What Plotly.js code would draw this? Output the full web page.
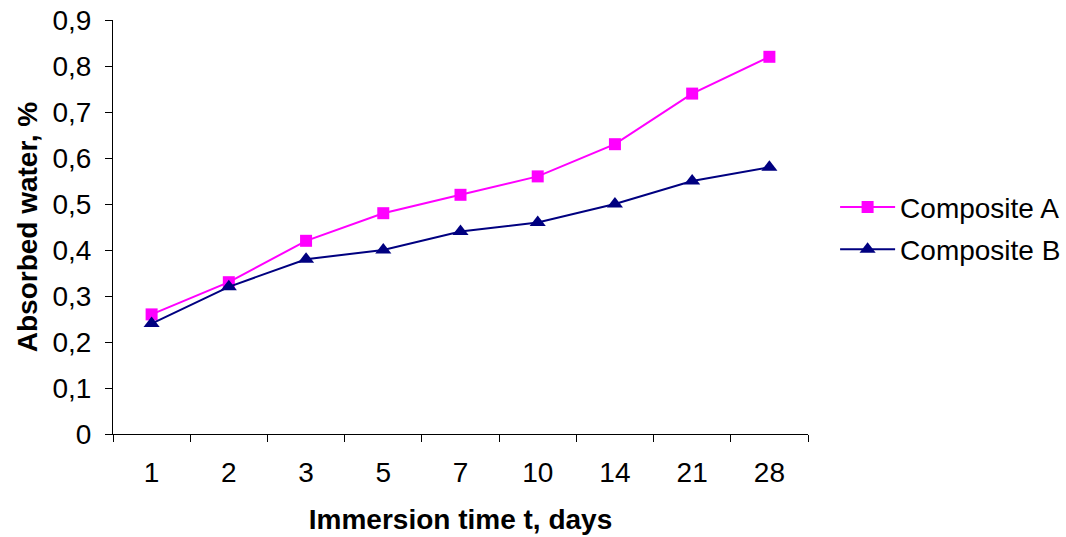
<!DOCTYPE html>
<html>
<head>
<meta charset="utf-8">
<script src="https://cdn.plot.ly/plotly-3.0.1.min.js"></script>
<style>html,body{margin:0;padding:0;background:#fff}#chart{width:1066px;height:537px}</style>
</head>
<body>
<div id="chart"></div>
<script>
const categories = ['1','2','3','5','7','10','14','21','28'];
const compositeA = [0.26, 0.33, 0.42, 0.48, 0.52, 0.56, 0.63, 0.74, 0.82];
const compositeB = [0.24, 0.32, 0.38, 0.40, 0.44, 0.46, 0.50, 0.55, 0.58];
const yTickValues = [0, 0.1, 0.2, 0.3, 0.4, 0.5, 0.6, 0.7, 0.8, 0.9];
const yTickLabels = ['0', '0,1', '0,2', '0,3', '0,4', '0,5', '0,6', '0,7', '0,8', '0,9'];

const font = 'Liberation Sans, Arial, sans-serif';
const traces = [
  {x: categories, y: compositeA, name: 'Composite A', type: 'scatter', mode: 'lines+markers',
   legendgroup: 'a',
   line: {color: '#ff00ff', width: 2}, marker: {symbol: 'square', size: 12, color: '#ff00ff'}},
  {x: categories, y: compositeB, name: 'Composite B', type: 'scatter', mode: 'lines+markers',
   legendgroup: 'b',
   line: {color: '#000080', width: 2}, marker: {symbol: 'triangle-up', size: 14, color: '#000080'}}
];
const layout = {
  width: 1066, height: 537,
  margin: {l: 113, r: 258, t: 20, b: 103, autoexpand: false},
  paper_bgcolor: '#fff', plot_bgcolor: '#fff',
  font: {family: font, size: 28, color: '#000'},
  showlegend: true,
  legend: {x: 1.039, y: 0.497, xanchor: 'left', yanchor: 'middle', font: {size: 28},
           traceorder: 'grouped', tracegroupgap: 3, itemwidth: 55, bgcolor: 'rgba(0,0,0,0)'},
  xaxis: {type: 'category', range: [-0.5, categories.length - 0.5],
          showline: true, linecolor: '#000', linewidth: 1, automargin: false,
          ticks: 'outside', tickson: 'boundaries', ticklen: 7, tickcolor: '#000',
          showgrid: false, zeroline: false, tickfont: {size: 28}, ticklabelstandoff: 13,
          title: {text: '<b>Immersion time t, days</b>', font: {size: 28}, standoff: 22}},
  yaxis: {range: [0, 0.9], showline: true, linecolor: '#000', linewidth: 1, automargin: false,
          tickvals: yTickValues, ticktext: yTickLabels, ticklabelstandoff: 8,
          ticks: 'outside', ticklen: 7, tickcolor: '#000', showgrid: false, zeroline: false,
          tickfont: {size: 28},
          title: {text: '<b>Absorbed water, %</b>', font: {size: 28}, standoff: 6}}
};
Plotly.newPlot('chart', traces, layout, {displayModeBar: false, staticPlot: true});
</script>
</body>
</html>
